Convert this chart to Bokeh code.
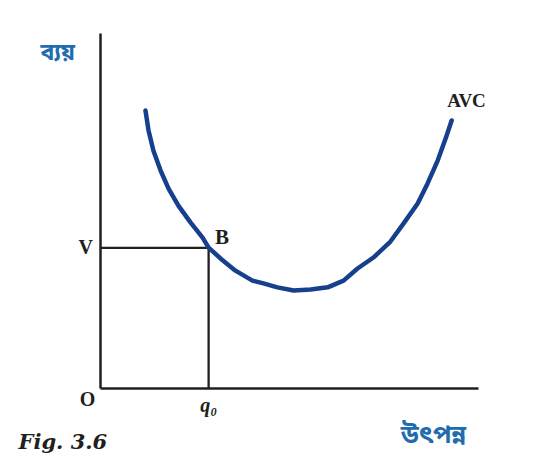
from bokeh.plotting import figure
from bokeh.models import Label
from bokeh.embed import file_html
from bokeh.resources import INLINE

# Average variable cost curve (output, cost)
avc_q = [1.19, 1.27, 1.40, 1.59, 1.80, 2.06, 2.38, 2.70, 2.86, 3.23, 3.57, 4.02, 4.31, 4.68,
         5.11, 5.56, 6.01, 6.43, 6.80, 7.22, 7.67, 8.02, 8.39, 8.65, 8.92, 9.13, 9.29]
avc_c = [7.83, 7.27, 6.70, 6.14, 5.63, 5.15, 4.68, 4.25, 3.97, 3.61, 3.32, 3.04, 2.96, 2.85,
         2.76, 2.79, 2.85, 3.04, 3.38, 3.69, 4.14, 4.65, 5.21, 5.77, 6.42, 7.04, 7.55]

# Point B on the curve
q0 = 2.86
v_cost = 3.96

# Extent of the drawn axes
x_axis_end = 10.0
y_axis_end = 10.0

x_tick_label = "q₀"
y_tick_label = "V"
curve_name = "AVC"
point_name = "B"
origin_name = "O"
y_title = "ব্যয়"
x_title = "উৎপন্ন"
caption = "Fig. 3.6"

SERIF = "Liberation Serif"
BENGALI = "Noto Sans Bengali, Noto Serif Bengali, Lohit Bengali, FreeSans, sans-serif"
INK = "#231f20"
CURVE = "#163f8d"
TITLE_BLUE = "#1f6cb0"

p = figure(width=557, height=455, x_range=(-2.646, 12.09), y_range=(-1.887, 10.93),
           output_backend="svg", toolbar_location=None,
           min_border=0, min_border_left=0, min_border_right=0,
           min_border_top=0, min_border_bottom=0)
p.axis.visible = False
p.grid.visible = False
p.outline_line_color = None
p.background_fill_color = "white"
p.border_fill_color = "white"

# Axes
p.line([0, 0], [0, y_axis_end], line_color=INK, line_width=2.5)
p.line([0, x_axis_end], [0, 0], line_color=INK, line_width=2.5)

# Guide lines from B to both axes
p.line([0, q0], [v_cost, v_cost], line_color=INK, line_width=2.3)
p.line([q0, q0], [0, v_cost], line_color=INK, line_width=2.3)

# AVC curve
p.line(avc_q, avc_c, line_color=CURVE, line_width=4.5,
       line_cap="round", line_join="round")

def add_label(x, y, text, font, size, color, style="normal", align="left", base="alphabetic"):
    p.add_layout(Label(x=x, y=y, text=text, text_font=font, text_font_size=size,
                       text_color=color, text_font_style=style,
                       text_align=align, text_baseline=base))

add_label(avc_q[-1] - 0.12, avc_c[-1] + 0.55, curve_name, SERIF, "19px", INK, "bold")
add_label(q0 + 0.17, v_cost + 0.3, point_name, SERIF, "21px", INK, "bold")
add_label(-0.2, v_cost + 0.02, y_tick_label, SERIF, "20px", INK, "bold", align="right")
add_label(-0.14, -0.3, origin_name, SERIF, "20px", INK, "bold", align="right")
add_label(q0, -0.46, x_tick_label, SERIF, "20px", INK, "bold italic", align="center")
add_label(-1.59, 9.42, y_title, BENGALI, "23px", TITLE_BLUE, "bold")
add_label(7.94, -1.36, x_title, BENGALI, "25px", TITLE_BLUE, "bold")
add_label(-2.17, -1.5, caption, "DejaVu Serif", "21px", INK, "bold italic")

open("out.html", "w").write(file_html(p, INLINE))
